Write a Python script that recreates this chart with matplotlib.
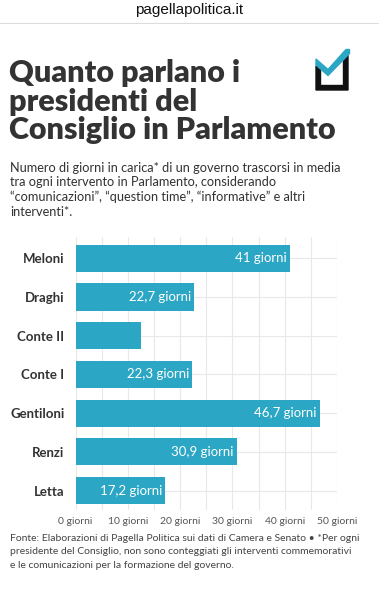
import matplotlib
matplotlib.use("Agg")
import matplotlib.pyplot as plt
from matplotlib.patches import Polygon

# dati
leader = ["Meloni", "Draghi", "Conte II", "Conte I", "Gentiloni", "Renzi", "Letta"]
giorni = [41, 22.7, 12.6, 22.3, 46.7, 30.9, 17.2]
etichette = ["41 giorni", "22,7 giorni", "", "22,3 giorni", "46,7 giorni", "30,9 giorni", "17,2 giorni"]
tick_val = [0, 10, 20, 30, 40, 50]
tick_lab = ["0 giorni", "10 giorni", "20 giorni", "30 giorni", "40 giorni", "50 giorni"]

W, H = 379, 600
BLU = "#2ba6c4"
SCURO = "#333333"

plt.rcParams["font.family"] = ["Lato", "DejaVu Sans"]

fig = plt.figure(figsize=(W / 100, H / 100), dpi=100)
fig.patch.set_facecolor("white")


def px(x, y):
    return x / W, 1 - y / H


# intestazione
fig.text(*px(W / 2, 10), "pagellapolitica.it", ha="center", va="center",
         fontsize=11, color="#111111", family=["Liberation Sans", "DejaVu Sans"])
fig.add_artist(plt.Line2D([0, 1], [1 - 23 / H] * 2, color="#dddddd", lw=0.8))

# titolo
titolo = ["Quanto parlano i", "presidenti del", "Consiglio in Parlamento"]
for i, riga in enumerate(titolo):
    fig.text(*px(9, 82 + i * 28.5), riga, ha="left", va="baseline",
             fontsize=22, fontweight="heavy", color=SCURO)

# logo (coordinate in pixel)
logo = fig.add_axes([312 / W, 1 - 94 / H, 40 / W, 48 / H])
logo.set_xlim(312, 352)
logo.set_ylim(94, 46)
logo.axis("off")
logo.add_patch(Polygon([(316, 66), (320.5, 68), (320.5, 85.5), (343.5, 85.5), (343.5, 53),
                        (348, 50.5), (348, 90), (316, 90)], closed=True, color="#111111"))
logo.add_patch(Polygon([(316, 59), (328, 69.5), (346, 49.5), (349.5, 49.5), (349.5, 53.5),
                        (328, 75.5), (316, 65)], closed=True, color=BLU))

# sottotitolo
sotto = ["Numero di giorni in carica* di un governo trascorsi in media",
         "tra ogni intervento in Parlamento, considerando",
         "\u201ccomunicazioni\u201d, \u201cquestion time\u201d, \u201cinformative\u201d e altri",
         "interventi*."]
for i, riga in enumerate(sotto):
    fig.text(*px(10, 172 + i * 14.5), riga, ha="left", va="baseline",
             fontsize=9.15, color=SCURO)

# grafico
ax = fig.add_axes([75.5 / W, 1 - 510 / H, (337 - 75.5) / W, (510 - 237) / H])
y = list(range(len(leader)))
ax.barh(y, giorni, height=0.7, color=BLU, zorder=2)
ax.set_xlim(0, 50)
ax.set_ylim(len(leader) - 0.5, -0.55)
ax.set_xticks(range(0, 51, 5))
ax.set_xticklabels([tick_lab[i // 2] if i % 2 == 0 else "" for i in range(11)])
ax.set_yticks(y)
ax.set_yticklabels(leader, fontweight="bold", fontsize=9.5, color=SCURO)
ax.tick_params(axis="both", length=0)
ax.tick_params(axis="x", labelsize=7.5, labelcolor="#555555", pad=5)
ax.tick_params(axis="y", pad=8)
ax.grid(True, color="#e8e8e8", lw=0.8, zorder=0)
for s in ax.spines.values():
    s.set_visible(False)

for yi, v, lab in zip(y, giorni, etichette):
    if lab:
        ax.text(v - 0.6, yi, lab, ha="right", va="center", color="white",
                fontsize=9.5, zorder=3)

# fonte
fonte = ["Fonte: Elaborazioni di Pagella Politica sui dati di Camera e Senato \u2022 *Per ogni",
         "presidente del Consiglio, non sono conteggiati gli interventi commemorativi",
         "e le comunicazioni per la formazione del governo."]
for i, riga in enumerate(fonte):
    fig.text(*px(10, 541 + i * 13.5), riga, ha="left", va="baseline",
             fontsize=7.45, color="#444444")

fig.savefig("out.png", dpi=100, facecolor="white")
